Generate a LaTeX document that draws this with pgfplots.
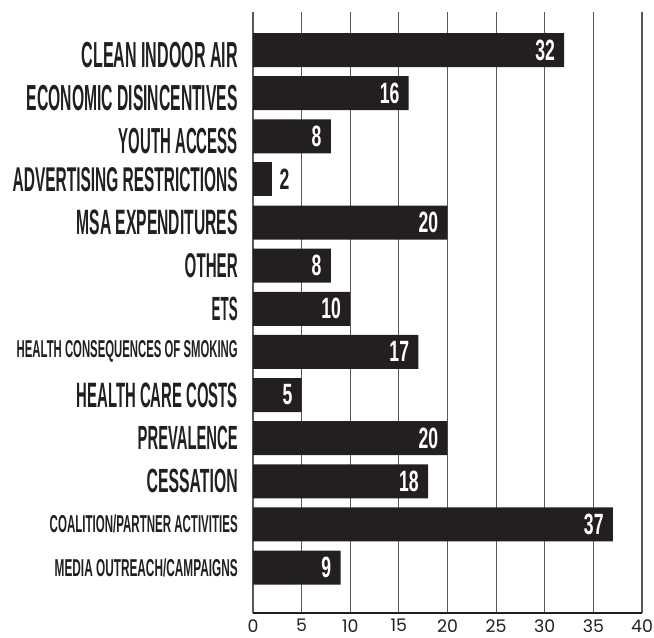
\documentclass[border=0pt]{standalone}
\usepackage{fontspec}
\setmainfont{Liberation Sans}
\newfontfamily\condfont[FakeStretch=0.6]{Liberation Sans}
\newfontfamily\tickfont{Poppins}
\usepackage{graphicx}
\usepackage{pgfplots}
\pgfplotsset{compat=1.18}
\definecolor{barc}{HTML}{231F20}
\definecolor{gridc}{HTML}{58595B}
\newcommand\lbl[3]{\resizebox{#1pt}{\dimexpr#2pt*1264/1000\relax}{\bfseries #3}}
\newcommand\lbld[3]{\rule{0pt}{\dimexpr#2pt*1264/1000+7.5pt\relax}\resizebox{#1pt}{\dimexpr#2pt*1264/1000\relax}{\bfseries #3}}
\begin{document}
\begin{tikzpicture}
\path[use as bounding box] (-189.75pt,-18pt) rectangle (300.75pt,459.75pt);
\begin{axis}[
  at={(0,0)}, anchor=south west,
  scale only axis,
  width=291.75pt, height=450.75pt,
  xbar,
  xmin=0, xmax=40,
  ymin=-0.881, ymax=13.055,
  y dir=reverse,
  axis x line=bottom,
  axis y line=left,
  x axis line style={-, line width=1.5pt, color=barc},
  y axis line style={draw=none},
  xtick={0,5,...,40},
  ytick={0,...,12},
  major tick length=0pt,
  xmajorgrids,
  grid style={line width=0.8pt, color=gridc},
  /pgf/number format/assume math mode=true,
  xticklabel style={font=\tickfont\fontsize{13}{13}\selectfont, text=barc, anchor=north, inner sep=0pt, yshift=-4.5pt},
  yticklabel style={anchor=east, inner sep=0pt, xshift=-11.25pt, text=barc},
  yticklabels={
    \lbld{117}{15}{CLEAN INDOOR AIR},
    \lbld{158.25}{15}{ECONOMIC DISINCENTIVES},
    \lbld{89.25}{15}{YOUTH ACCESS},
    \lbl{168.75}{14.25}{ADVERTISING RESTRICTIONS},
    \lbl{120.75}{14.6}{MSA EXPENDITURES},
    \lbl{39.75}{14.25}{OTHER},
    \lbl{19.5}{13.9}{ETS},
    \lbl{165.75}{10.1}{HEALTH CONSEQUENCES OF SMOKING},
    \lbl{120.75}{14.6}{HEALTH CARE COSTS},
    \lbl{75}{13.9}{PREVALENCE},
    \lbl{68.25}{13.9}{CESSATION},
    \lbl{141}{10.5}{COALITION/PARTNER ACTIVITIES},
    \lbl{137.25}{10.5}{MEDIA OUTREACH/CAMPAIGNS}
  },
  bar width=25.5pt,
  bar shift=0pt,
  point meta=x,
  nodes near coords,
  every node near coord/.append style={font=\condfont\bfseries\fontsize{22}{22}\selectfont, inner sep=0pt},
]
\addplot[fill=barc, draw=none,
  nodes near coords style={anchor=east, xshift=-6.75pt, text=white}]
  coordinates {(32,0) (16,1) (8,2) (20,4) (8,5) (10,6) (17,7) (5,8) (20,9) (18,10) (37,11) (9,12)};
\addplot[fill=barc, draw=none,
  nodes near coords style={anchor=west, xshift=5.25pt, text=barc}]
  coordinates {(2,3)};
\draw[line width=1.5pt, color=barc] (rel axis cs:0,0) -- ++(0,9.75pt);
\end{axis}
\end{tikzpicture}
\end{document}
